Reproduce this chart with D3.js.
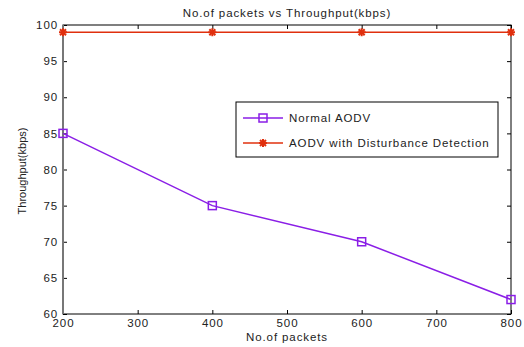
<!DOCTYPE html>
<html>
<head>
<meta charset="utf-8">
<script src="https://cdn.jsdelivr.net/npm/d3@7"></script>
<style>
body { margin: 0; background: #fff; }
text { font-family: "Liberation Sans", Arial, sans-serif; fill: #222; letter-spacing: 0.9px; }
</style>
</head>
<body>
<script>
//chart data
var packets = [200, 400, 600, 800];
var normalAodv = [85, 75, 70, 62];
var disturbanceAodv = [99, 99, 99, 99];
var xTicks = [200, 300, 400, 500, 600, 700, 800];
var yTicks = [60, 65, 70, 75, 80, 85, 90, 95, 100];

var width = 524, height = 347;
var plotLeft = 63, plotRight = 511, plotTop = 25, plotBottom = 314;

var svg = d3.select("body").append("svg")
    .attr("width", width)
    .attr("height", height);

var x = d3.scaleLinear().domain([200, 800]).range([plotLeft, plotRight]);
var y = d3.scaleLinear().domain([60, 100]).range([plotBottom, plotTop]);

//frame
svg.append("rect")
    .attr("x", plotLeft).attr("y", plotTop)
    .attr("width", plotRight - plotLeft).attr("height", plotBottom - plotTop)
    .attr("fill", "none").attr("stroke", "#000").attr("stroke-width", 1);

//inward ticks on all four sides
function ticks(g) { g.select(".domain").remove(); g.selectAll("line").attr("stroke", "#000"); }

svg.append("g").attr("transform", "translate(0," + plotBottom + ")")
    .call(d3.axisBottom(x).tickValues(xTicks).tickSize(-4).tickPadding(5))
    .call(ticks).selectAll("text").attr("font-size", 11.5).attr("font-family", "Liberation Sans, Arial").attr("fill", "#222");
svg.append("g").attr("transform", "translate(0," + plotTop + ")")
    .call(d3.axisTop(x).tickValues(xTicks).tickSize(-4).tickFormat(""))
    .call(ticks);
svg.append("g").attr("transform", "translate(" + plotLeft + ",0)")
    .call(d3.axisLeft(y).tickValues(yTicks).tickSize(-4).tickPadding(5))
    .call(ticks).selectAll("text").attr("font-size", 11.5).attr("font-family", "Liberation Sans, Arial").attr("fill", "#222");
svg.append("g").attr("transform", "translate(" + plotRight + ",0)")
    .call(d3.axisRight(y).tickValues(yTicks).tickSize(-4).tickFormat(""))
    .call(ticks);

//gray left axis line
svg.append("line")
    .attr("x1", plotLeft).attr("x2", plotLeft).attr("y1", plotTop).attr("y2", plotBottom)
    .attr("stroke", "#777").attr("stroke-width", 2);

var purple = "#8a1ee6", red = "#e0300e";

var line = d3.line().x(function(d){ return x(d[0]); }).y(function(d){ return y(d[1]); });
var normalPts = packets.map(function(p, i){ return [p, normalAodv[i]]; });
var distPts = packets.map(function(p, i){ return [p, disturbanceAodv[i]]; });

svg.append("path").datum(normalPts).attr("d", line)
    .attr("fill", "none").attr("stroke", purple).attr("stroke-width", 1.5);
svg.append("path").datum(distPts).attr("d", line)
    .attr("fill", "none").attr("stroke", red).attr("stroke-width", 1.5);

function square(g, cx, cy) {
    g.append("rect").attr("x", cx - 4).attr("y", cy - 4).attr("width", 8).attr("height", 8)
        .attr("fill", "none").attr("stroke", purple).attr("stroke-width", 1.5);
}
function star(g, cx, cy) {
    var r = 4;
    [[0, r, 0, -r], [-r, 0, r, 0], [-r * 0.75, -r * 0.75, r * 0.75, r * 0.75], [-r * 0.75, r * 0.75, r * 0.75, -r * 0.75]]
        .forEach(function(s){
            g.append("line").attr("x1", cx + s[0]).attr("y1", cy + s[1]).attr("x2", cx + s[2]).attr("y2", cy + s[3])
                .attr("stroke", red).attr("stroke-width", 2);
        });
}

normalPts.forEach(function(d){ square(svg, x(d[0]), y(d[1])); });
distPts.forEach(function(d){ star(svg, x(d[0]), y(d[1])); });

//title and labels
svg.append("text").attr("x", (plotLeft + plotRight) / 2).attr("y", 17)
    .attr("text-anchor", "middle").attr("font-size", 11.5).text("No.of packets vs Throughput(kbps)");
svg.append("text").attr("x", (plotLeft + plotRight) / 2).attr("y", 341)
    .attr("text-anchor", "middle").attr("font-size", 11.5).text("No.of packets");
svg.append("text").attr("transform", "translate(26,171) rotate(-90)")
    .attr("text-anchor", "middle").attr("font-size", 11).style("letter-spacing", "0px").text("Throughput(kbps)");

//legend
var lg = svg.append("g");
lg.append("rect").attr("x", 236).attr("y", 102).attr("width", 262).attr("height", 55)
    .attr("fill", "#fff").attr("stroke", "#000").attr("stroke-width", 1);
var legendItems = [["Normal AODV", purple, square], ["AODV with Disturbance Detection", red, star]];
legendItems.forEach(function(it, i){
    var ly = 118 + i * 25;
    lg.append("line").attr("x1", 243).attr("x2", 283).attr("y1", ly).attr("y2", ly)
        .attr("stroke", it[1]).attr("stroke-width", 1.5);
    it[2](lg, 263, ly);
    lg.append("text").attr("x", 289).attr("y", ly + 4).attr("font-size", 11.5).text(it[0]);
});
</script>
</body>
</html>
